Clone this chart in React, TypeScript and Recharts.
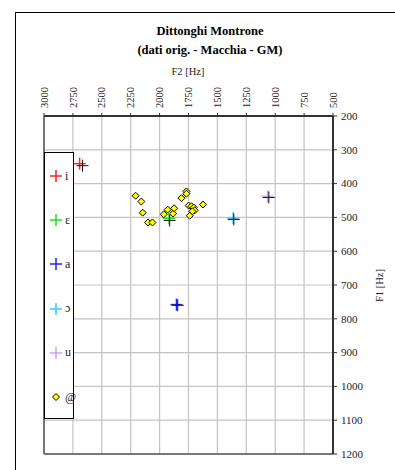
import {
  ScatterChart,
  Scatter,
  XAxis,
  YAxis,
  CartesianGrid,
  ReferenceLine,
  Legend,
} from "recharts";

const FONT = '"Liberation Serif", "Times New Roman", serif';

// F2 (x) / F1 (y) in Hz
const f2Ticks = [3000, 2750, 2500, 2250, 2000, 1750, 1500, 1250, 1000, 750, 500];
const f1Ticks = [200, 300, 400, 500, 600, 700, 800, 900, 1000, 1100, 1200];

const vowelI = [{ f2: 2692, f1: 341 }];
const vowelE = [{ f2: 1919, f1: 503 }];
const vowelA = [{ f2: 1854, f1: 758 }];
const vowelO = [{ f2: 1364, f1: 502 }];
const vowelU = [{ f2: 1066, f1: 438 }];

// GM reference values (black crosses, no legend entry)
const gmRef = [
  { f2: 2667, f1: 347 },
  { f2: 1913, f1: 509 },
  { f2: 1843, f1: 760 },
  { f2: 1358, f1: 506 },
  { f2: 1055, f1: 441 },
];

// diphthong tokens "@"
const schwaF2 = [2207, 2158, 2146, 2100, 2062, 1964, 1930, 1884, 1875, 1811, 1768, 1768, 1748, 1724, 1704, 1696, 1716, 1739, 1624];
const schwaF1 = [436, 453, 486, 515, 515, 491, 477, 489, 473, 443, 423, 430, 465, 467, 471, 479, 482, 495, 462];
const schwa = schwaF2.map((f2, i) => ({ f2, f1: schwaF1[i] }));

const legendNames = ["i", "ɛ", "a", "ɔ", "u", "@"];
const legendColors = ["#ff2020", "#20e020", "#2020ff", "#30c8ff", "#c8a0ff", "#ffff00"];

function Cross(color: string, width = 1.5) {
  return (props: any) => {
    const { cx, cy } = props;
    return (
      <g>
        <line x1={cx - 6} y1={cy} x2={cx + 6} y2={cy} stroke={color} strokeWidth={width} />
        <line x1={cx} y1={cy - 6} x2={cx} y2={cy + 6} stroke={color} strokeWidth={width} />
      </g>
    );
  };
}

function Diamond(props: any) {
  const { cx, cy } = props;
  const r = 3.5;
  return (
    <polygon
      points={`${cx},${cy - r} ${cx + r},${cy} ${cx},${cy + r} ${cx - r},${cy}`}
      fill="#ffff00"
      stroke="#000"
      strokeWidth={1}
    />
  );
}

function TopTick(props: any) {
  const { x, y, payload } = props;
  return (
    <text
      x={x}
      y={y}
      transform={`rotate(-90 ${x} ${y})`}
      textAnchor="start"
      dy="0.35em"
      fontSize={10.5}
      style={{ fontFamily: FONT }}
      fill="#222"
    >
      {payload.value}
    </text>
  );
}

function RightTick(props: any) {
  const { x, y, payload } = props;
  return (
    <text x={x} y={y} dy="0.35em" textAnchor="start" fontSize={11} style={{ fontFamily: FONT }} fill="#222">
      {payload.value}
    </text>
  );
}

function LegendBox() {
  return (
    <div
      style={{
        width: 30,
        height: 267,
        border: "1px solid #000",
        background: "#fff",
        boxSizing: "border-box",
        position: "relative",
        fontFamily: FONT,
      }}
    >
      {legendNames.map((name, i) => (
        <div
          key={name}
          style={{
            position: "absolute",
            left: 4,
            top: 15 + i * 44.2,
            height: 16,
            display: "flex",
            alignItems: "center",
            fontSize: 12,
            color: "#222",
          }}
        >
          <svg width={14} height={14} style={{ marginRight: 2 }}>
            {name === "@" ? (
              <polygon points="7,3.5 10.5,7 7,10.5 3.5,7" fill="#ffff00" stroke="#000" strokeWidth={1} />
            ) : (
              <g stroke={legendColors[i]} strokeWidth={1.5}>
                <line x1={1} y1={7} x2={13} y2={7} />
                <line x1={7} y1={1} x2={7} y2={13} />
              </g>
            )}
          </svg>
          <span>{name}</span>
        </div>
      ))}
    </div>
  );
}

export default function App() {
  return (
    <div
      style={{
        position: "absolute",
        left: 0,
        top: 0,
        width: 395,
        height: 470,
        background: "#fff",
        fontFamily: FONT,
        overflow: "hidden",
      }}
    >
      <div
        style={{
          position: "absolute",
          left: 15,
          top: 12,
          width: 380,
          height: 458,
          borderLeft: "1.5px solid #000",
          borderTop: "1.5px solid #000",
          boxSizing: "border-box",
        }}
      />
      <div
        style={{
          position: "absolute",
          left: 60,
          width: 300,
          top: 22,
          textAlign: "center",
          fontWeight: "bold",
          fontSize: 12.5,
          lineHeight: "19px",
          color: "#000",
        }}
      >
        Dittonghi Montrone
        <br />
        (dati orig. - Macchia - GM)
      </div>
      <div
        style={{
          position: "absolute",
          left: 138,
          width: 100,
          top: 66,
          textAlign: "center",
          fontSize: 10.5,
          color: "#222",
        }}
      >
        F2 [Hz]
      </div>
      <div
        style={{
          position: "absolute",
          left: 349,
          top: 280,
          width: 60,
          textAlign: "center",
          fontSize: 10.5,
          color: "#222",
          transform: "rotate(-90deg)",
        }}
      >
        F1 [Hz]
      </div>
      <div style={{ position: "absolute", left: 0, top: 0 }}>
        <ScatterChart
          width={395}
          height={470}
          margin={{ top: 0, right: 0, bottom: 16, left: 44 }}
          style={{ fontFamily: FONT }}
        >
          <CartesianGrid stroke="#c4c4c4" strokeWidth={1.2} />
          <XAxis
            type="number"
            dataKey="f2"
            orientation="top"
            reversed
            domain={[500, 3000]}
            ticks={f2Ticks}
            interval={0}
            height={116}
            tickSize={3}
            tickMargin={5}
            tick={<TopTick />}
            axisLine={{ stroke: "#333", strokeWidth: 2 }}
            tickLine={{ stroke: "#333" }}
            allowDataOverflow
          />
          <YAxis
            type="number"
            dataKey="f1"
            orientation="right"
            reversed
            domain={[200, 1200]}
            ticks={f1Ticks}
            interval={0}
            width={62}
            tickSize={4}
            tickMargin={4}
            tick={<RightTick />}
            axisLine={{ stroke: "#333", strokeWidth: 2 }}
            tickLine={{ stroke: "#333" }}
            allowDataOverflow
          />
          <ReferenceLine x={3000} stroke="#555" strokeWidth={1.5} />
          <ReferenceLine y={1200} stroke="#555" strokeWidth={1.5} />
          <Legend
            layout="horizontal"
            align="center"
            verticalAlign="middle"
            content={<LegendBox />}
            wrapperStyle={{ position: "absolute", left: 44, top: 152, width: 30, height: 267 }}
          />
          <Scatter name="@" data={schwa} shape={Diamond} isAnimationActive={false} />
          <Scatter name="i" data={vowelI} shape={Cross(legendColors[0])} isAnimationActive={false} />
          <Scatter name="ɛ" data={vowelE} shape={Cross(legendColors[1])} isAnimationActive={false} />
          <Scatter name="a" data={vowelA} shape={Cross(legendColors[2])} isAnimationActive={false} />
          <Scatter name="ɔ" data={vowelO} shape={Cross(legendColors[3])} isAnimationActive={false} />
          <Scatter name="u" data={vowelU} shape={Cross(legendColors[4])} isAnimationActive={false} />
          <Scatter name="GM" data={gmRef} shape={Cross("#111", 1)} legendType="none" isAnimationActive={false} />
        </ScatterChart>
      </div>
    </div>
  );
}
